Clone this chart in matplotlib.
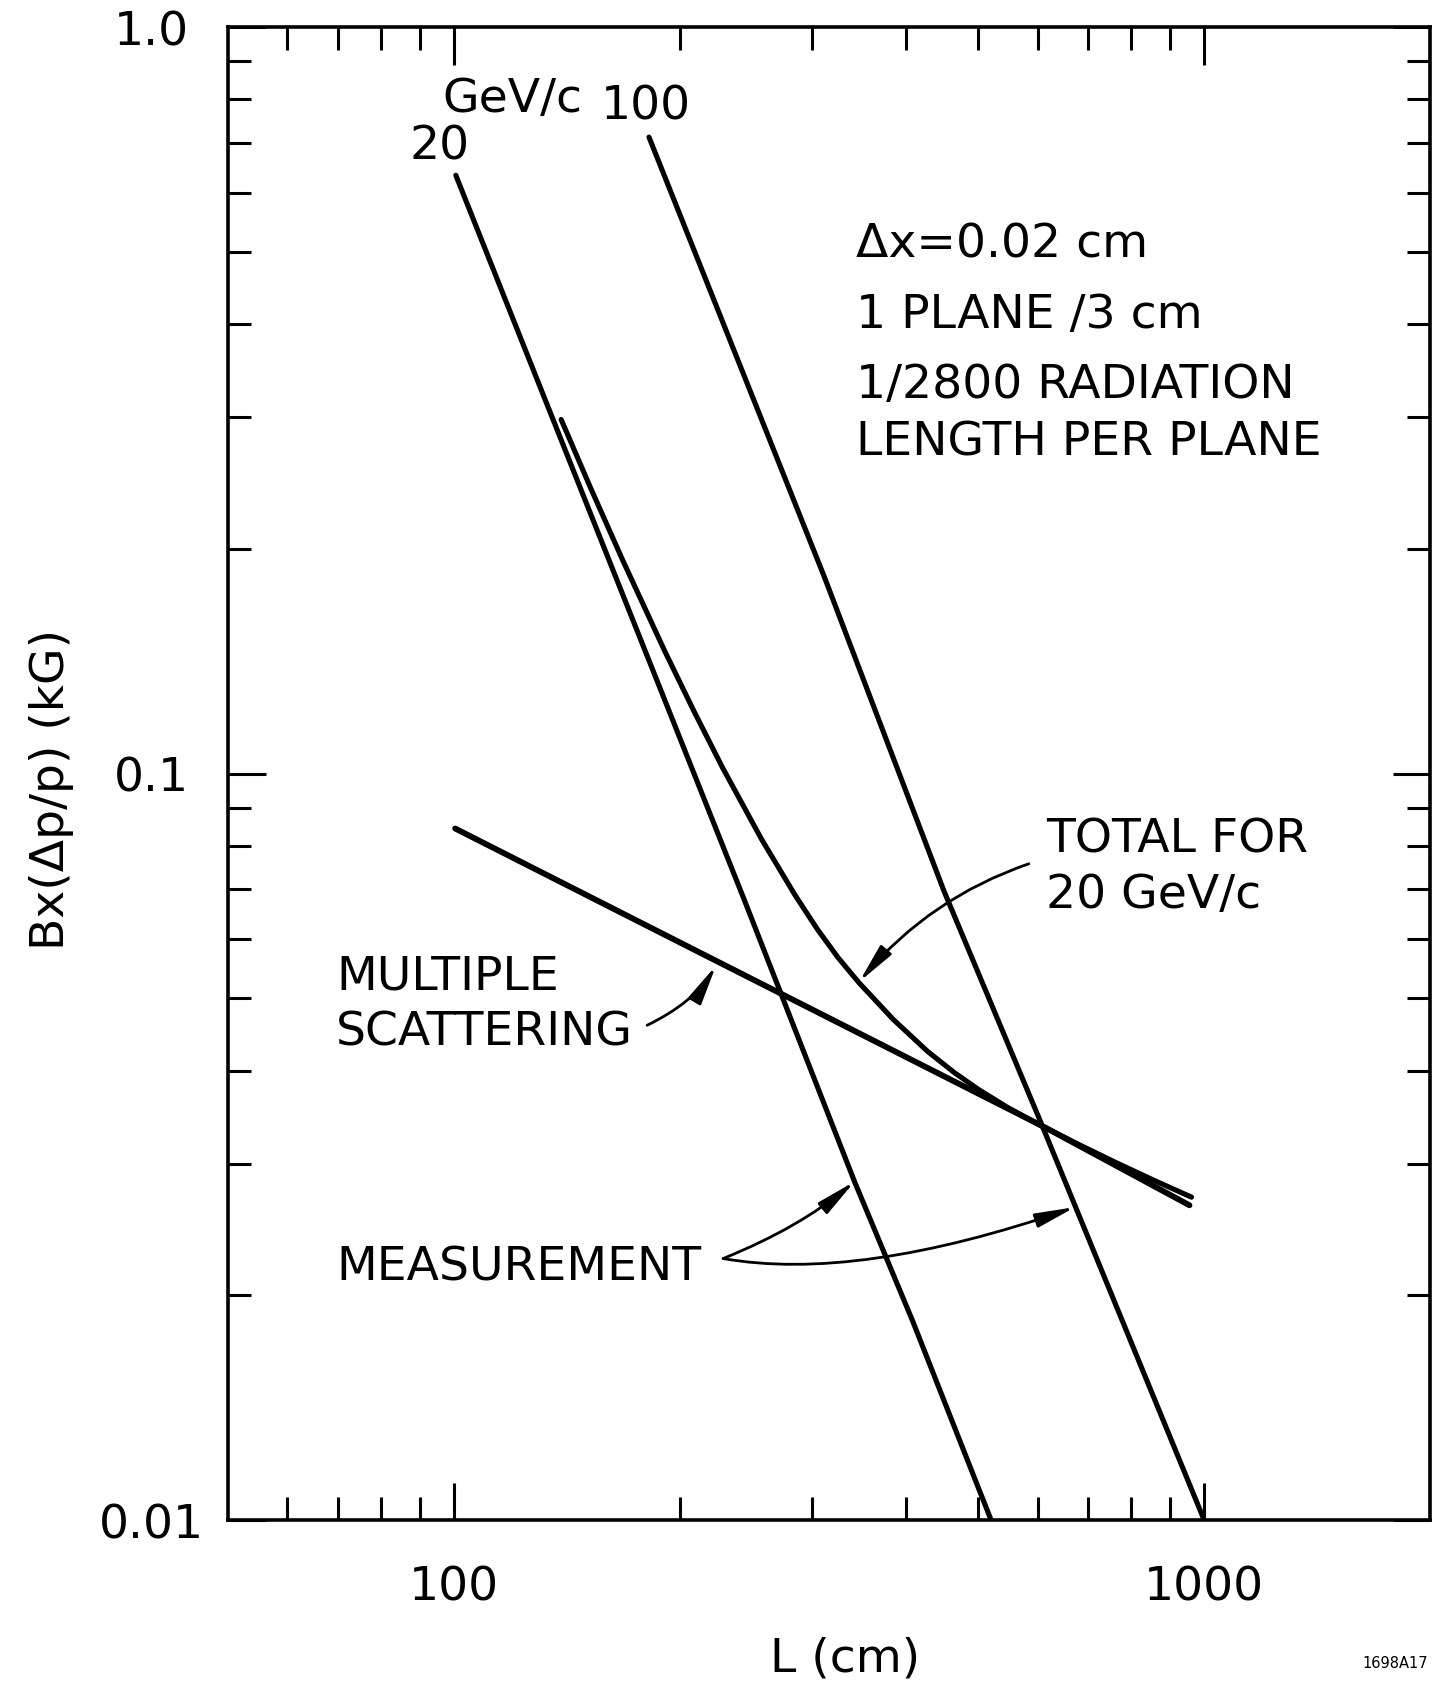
import matplotlib
matplotlib.use('Agg')
import matplotlib.pyplot as plt
from matplotlib.patches import FancyArrowPatch
from matplotlib.ticker import FixedLocator, FixedFormatter, NullFormatter

# ---------------- data ----------------
# measurement error, 20 GeV/c
L_meas20 = [100.6, 244, 342, 409, 520]
B_meas20 = [0.633, 0.0676, 0.0284, 0.01845, 0.0100]
# measurement error, 100 GeV/c
L_meas100 = [182, 312, 450, 605, 1000]
B_meas100 = [0.712, 0.183, 0.0696, 0.0342, 0.0100]
# multiple scattering
L_ms = [100.4, 211, 616, 956]
B_ms = [0.0844, 0.0578, 0.0335, 0.0264]
# total for 20 GeV/c
L_total20 = [139, 152, 168, 191, 209, 228, 257, 285, 305, 325, 347, 385,
             428, 465, 500, 545, 598, 680, 760, 860, 962]
B_total20 = [0.298, 0.2418, 0.1928, 0.1459, 0.1211, 0.1019, 0.0817, 0.0687,
             0.0619, 0.0567, 0.0524, 0.04685, 0.04243, 0.03972, 0.03775,
             0.03578, 0.03398, 0.03186, 0.03017, 0.02847, 0.02707]

x_major = [100, 1000]
x_major_labels = ['100', '1000']
x_minor = [60, 70, 80, 90, 200, 300, 400, 500, 600, 700, 800, 900]
y_major = [0.01, 0.1, 1.0]
y_major_labels = ['0.01', '0.1', '1.0']
y_minor = [0.02, 0.03, 0.04, 0.05, 0.06, 0.07, 0.08, 0.09,
           0.2, 0.3, 0.4, 0.5, 0.6, 0.7, 0.8, 0.9]

# ---------------- figure ----------------
W, H = 1437, 1683
plt.rcParams['font.family'] = ['DejaVu Sans']
fig = plt.figure(figsize=(W / 100, H / 100), dpi=100)
fig.patch.set_facecolor('white')

ax = fig.add_axes([228 / W, 1 - 1521 / H, 1202 / W, 1493 / H])
ax.set_xscale('log')
ax.set_yscale('log')
ax.set_xlim(50, 2000)
ax.set_ylim(0.01, 1.0)

ax.xaxis.set_major_locator(FixedLocator(x_major))
ax.xaxis.set_major_formatter(FixedFormatter(x_major_labels))
ax.xaxis.set_minor_locator(FixedLocator(x_minor))
ax.xaxis.set_minor_formatter(NullFormatter())
ax.yaxis.set_major_locator(FixedLocator(y_major))
ax.yaxis.set_major_formatter(FixedFormatter(y_major_labels))
ax.yaxis.set_minor_locator(FixedLocator(y_minor))
ax.yaxis.set_minor_formatter(NullFormatter())

for s in ax.spines.values():
    s.set_linewidth(2.6)
ax.tick_params(which='both', direction='in', top=True, right=True,
               width=2.2, color='black')
ax.tick_params(which='major', length=27)
ax.tick_params(which='minor', length=16.5)
ax.tick_params(axis='y', which='major', pad=55, labelsize=34)
ax.tick_params(axis='x', which='major', pad=32, labelsize=34)
plt.setp(ax.get_yticklabels(), ha='center')

lw = 3.7
kw = dict(color='black', solid_capstyle='round', solid_joinstyle='round')
ax.plot(L_meas20, B_meas20, lw=lw, **kw)
ax.plot(L_meas100, B_meas100, lw=lw, **kw)
ax.plot(L_ms, B_ms, lw=4.2, **kw)
ax.plot(L_total20, B_total20, lw=lw, **kw)

# ---------------- annotation arrows ----------------
def arrow(tail, tip, angA, angB):
    p = FancyArrowPatch(tail, tip,
                        connectionstyle=f"angle3,angleA={angA},angleB={angB}",
                        arrowstyle="-|>,head_length=24,head_width=4.3",
                        lw=2.0, color='black', shrinkA=0, shrinkB=0,
                        transform=ax.transData)
    ax.add_patch(p)

arrow((181, 0.0460), (223.6, 0.0553), 26, 59)          # multiple scattering
arrow((584, 0.0757), (347, 0.0526), 19, 50)            # total
arrow((228.5, 0.0224), (342, 0.0284), 22, 40)          # measurement 20
arrow((228.5, 0.0224), (673, 0.02625), -10, 19)        # measurement 100

# ---------------- texts ----------------
def ftext(x, y, s, **k):
    fig.text(x / W, 1 - y / H, s, **k)

fs = 34
ftext(512, 112, 'GeV/c', fontsize=fs, ha='center', va='baseline')
ftext(646, 120, '100', fontsize=fs, ha='center', va='baseline')
ftext(440, 159, '20', fontsize=fs, ha='center', va='baseline')

ftext(856, 258, 'Δx=0.02 cm', fontsize=fs, ha='left', va='baseline')
ftext(856, 328, '1 PLANE /3 cm', fontsize=fs, ha='left', va='baseline')
ftext(856, 398, '1/2800 RADIATION', fontsize=fs, ha='left', va='baseline')
ftext(856, 455, 'LENGTH PER PLANE', fontsize=fs, ha='left', va='baseline')

ftext(1046, 853, 'TOTAL FOR', fontsize=fs, ha='left', va='baseline')
ftext(1046, 908, '20 GeV/c', fontsize=fs, ha='left', va='baseline')

ftext(336, 990, 'MULTIPLE', fontsize=fs, ha='left', va='baseline')
ftext(336, 1045, 'SCATTERING', fontsize=fs, ha='left', va='baseline')
ftext(336, 1281, 'MEASUREMENT', fontsize=fs, ha='left', va='baseline')

ftext(845, 1672, 'L (cm)', fontsize=fs, ha='center', va='baseline')
ftext(52, 790, 'Bx(Δp/p) (kG)', fontsize=fs, ha='center', va='center',
      rotation=90)
ftext(1362, 1668, '1698A17', fontsize=10.5, ha='left', va='baseline')

fig.savefig('out.png', dpi=100, facecolor='white')
